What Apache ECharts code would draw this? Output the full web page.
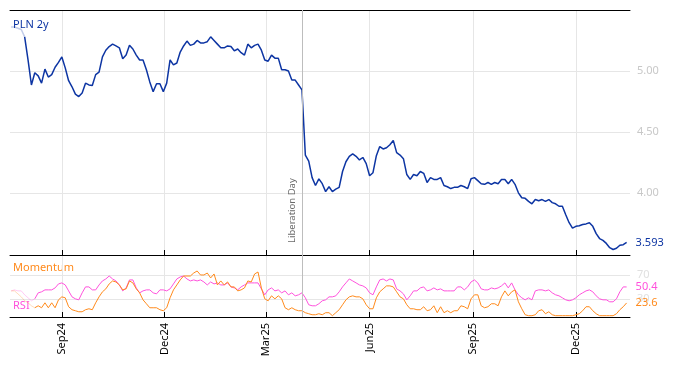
<!DOCTYPE html>
<html><head><meta charset="utf-8">
<script src="https://cdn.jsdelivr.net/npm/echarts@6/dist/echarts.min.js"></script>
<style>html,body{margin:0;padding:0;background:#fff}#c{width:674px;height:366px}</style>
</head><body><div id="c"></div>
<script>
// samples: one every 3 calendar days starting 2024-07-18
const sampleStart = '2024-07-18';
const sampleStepDays = 3;
const pln2y = [5.36,5.36,5.35,5.34,5.28,5.09,4.885,4.985,4.96,4.90,
5.015,4.95,4.97,5.03,5.07,5.115,5.025,4.92,4.87,4.81,
4.79,4.82,4.90,4.885,4.88,4.97,4.99,5.115,5.17,5.20,
5.22,5.205,5.19,5.10,5.13,5.21,5.18,5.13,5.09,5.09,
5.01,4.91,4.83,4.895,4.895,4.83,4.90,5.09,5.05,5.065,
5.155,5.205,5.245,5.21,5.22,5.25,5.23,5.23,5.24,5.28,
5.25,5.22,5.19,5.19,5.205,5.20,5.165,5.18,5.15,5.13,
5.22,5.19,5.21,5.22,5.17,5.09,5.08,5.13,5.105,5.105,
5.01,5.01,5.00,4.925,4.925,4.885,4.845,4.31,4.26,4.125,
4.06,4.115,4.075,4.01,4.05,4.01,4.03,4.045,4.175,4.255,
4.30,4.32,4.30,4.27,4.29,4.24,4.14,4.165,4.305,4.38,
4.36,4.37,4.395,4.43,4.33,4.31,4.28,4.15,4.11,4.15,
4.14,4.175,4.16,4.085,4.125,4.11,4.11,4.125,4.06,4.05,
4.035,4.045,4.045,4.06,4.05,4.035,4.115,4.125,4.10,4.075,
4.07,4.085,4.07,4.085,4.075,4.11,4.11,4.075,4.11,4.07,
4.00,3.96,3.955,3.93,3.91,3.945,3.935,3.945,3.93,3.945,
3.92,3.91,3.89,3.89,3.82,3.755,3.71,3.725,3.73,3.74,
3.745,3.755,3.725,3.665,3.625,3.61,3.585,3.55,3.535,3.545,
3.57,3.575,3.593];
const rsi = [43.8,45.5,43.8,43.8,37.2,32.2,27.2,30.5,40.5,42.2,
45.5,45.5,45.5,48.8,55.5,57.2,53.8,43.8,33.8,30.5,
28.8,40.5,50.5,50.5,45.5,45.5,53.8,60.5,63.8,68.8,
63.8,60.5,53.8,43.8,48.8,62.2,62.2,48.8,40.5,43.8,
45.5,45.5,40.5,38.8,45.5,45.5,43.8,47.2,55.5,63.8,
67.2,68.8,63.8,60.5,62.2,60.5,62.2,58.8,53.8,58.8,
55.5,57.2,53.8,53.8,57.2,50.5,48.8,45.5,50.5,53.8,
57.2,57.2,57.2,57.2,47.2,37.2,45.5,48.8,43.8,45.5,
40.5,43.8,37.2,40.5,35.5,37.2,40.5,32.2,20.5,18.8,
18.8,22.2,27.2,28.8,33.8,33.8,35.5,42.2,50.5,57.2,
63.8,60.5,57.2,53.8,52.2,48.8,40.5,37.2,50.5,62.2,
63.8,60.5,63.8,62.2,47.2,43.8,38.8,28.8,35.5,43.8,
43.8,48.8,50.5,43.8,45.5,48.8,45.5,47.2,43.8,43.8,
43.8,43.8,50.5,50.5,45.5,50.5,58.8,62.2,57.2,47.2,
45.5,45.5,48.8,47.2,48.8,52.2,57.2,48.8,57.2,45.5,
37.2,32.2,28.8,32.2,28.8,43.8,45.5,45.5,43.8,45.5,
40.5,37.2,35.5,32.2,28.8,27.2,28.8,32.2,37.2,40.5,
43.8,45.5,42.2,35.5,30.5,28.8,28.8,25.5,25.5,30.5,
42.2,50.5,50.4];
const momentum = [43.8,43.8,38.8,33.8,27.2,23.8,18.8,15.5,18.8,15.5,
23.8,15.5,23.8,15.5,28.8,33.8,32.2,17.2,12.2,10.5,
8.8,8.8,12.2,13.8,12.2,23.8,33.8,42.2,47.2,55.5,
60.5,58.8,53.8,45.5,47.2,60.5,57.2,47.2,40.5,28.8,
22.2,15.5,15.5,15.5,12.2,10.5,15.5,32.2,45.5,53.8,
62.2,68.8,68.8,68.8,73.8,77.2,70.5,70.5,73.8,65.5,
72.2,53.8,60.5,53.8,58.8,50.5,50.5,43.8,45.5,48.8,
60.5,58.8,72.2,75.5,48.8,30.5,27.2,35.5,30.5,35.5,
30.5,15.5,12.2,15.5,12.2,10.5,10.5,7.2,5.5,3.8,
3.8,5.5,3.8,7.2,7.2,2.2,7.2,12.2,20.5,28.8,
33.8,35.5,33.8,33.8,30.5,20.5,13.8,13.8,32.2,42.2,
47.2,52.2,52.2,50.5,42.2,33.8,30.5,20.5,13.8,13.8,
12.2,12.2,17.2,10.5,12.2,18.8,7.2,17.2,7.2,10.5,
7.2,10.5,10.5,18.8,17.2,13.8,30.5,37.2,37.2,18.8,
15.5,17.2,22.2,22.2,18.8,33.8,43.8,35.5,42.2,45.5,
25.5,13.8,3.8,2.2,2.2,3.8,10.5,12.2,5.5,8.8,
3.8,2.2,2.2,2.2,2.2,2.2,2.2,3.8,5.5,10.5,
17.2,17.2,10.5,5.5,2.2,2.2,2.2,2.2,2.2,5.5,
12.2,17.2,23.6];
const axisRange = ['2024-07-17', '2026-01-18'];
const quarterDates = ['2024-09-01','2024-12-01','2025-03-01','2025-06-01','2025-09-01','2025-12-01'];
const quarterLabels = ['Sep24','Dec24','Mar25','Jun25','Sep25','Dec25'];
const priceTicks = [4.0, 4.5, 5.0];
const oscTicks = [30, 70];
const eventDate = '2025-04-02';
const eventName = 'Liberation Day';
const seriesNames = ['PLN 2y', 'RSI', 'Momentum'];

function ts(s){ const p = s.split('-').map(Number); return new Date(p[0], p[1]-1, p[2]).getTime(); }
const s0 = sampleStart.split('-').map(Number);
const dates = pln2y.map((_, i) => new Date(s0[0], s0[1]-1, s0[2] + i*sampleStepDays).getTime());
const qTs = quarterDates.map(ts);
function pairs(arr, from, to){ return arr.map((v,i)=> (i>=from && i<=to) ? [dates[i], v] : null).filter(Boolean); }
const N = pln2y.length - 1;
const BLUE = '#0d35a3', PINK = '#ff52dc', ORANGE = '#ff8a1c';
const FONT = 'Noto Sans';
function qLabel(v){ let best=0; for(let k=1;k<qTs.length;k++){ if(Math.abs(qTs[k]-v)<Math.abs(qTs[best]-v)) best=k; } return quarterLabels[best]; }

const chart = echarts.init(document.getElementById('c'), null, {renderer:'canvas'});
const xBase = (gi) => ({type:'value', gridIndex:gi, min:ts(axisRange[0]), max:ts(axisRange[1]), scale:true});
chart.setOption({
  animation:false,
  textStyle:{fontFamily:FONT},
  grid:[{left:10,right:44,top:10,height:245},{left:10,right:44,top:255,height:62}],
  xAxis:[
    Object.assign(xBase(0),{position:'bottom',
      axisLine:{onZero:false,lineStyle:{color:'#000',width:1}},
      axisTick:{show:true,inside:true,length:5,lineStyle:{color:'#000'},customValues:qTs},
      axisLabel:{show:false,customValues:qTs},
      splitLine:{show:true,lineStyle:{color:'#e6e6e6',width:1}}}),
    Object.assign(xBase(0),{position:'top',
      axisLine:{onZero:false,lineStyle:{color:'#000',width:1}},axisTick:{show:false},axisLabel:{show:false},splitLine:{show:false}}),
    Object.assign(xBase(1),{position:'bottom',
      axisLine:{onZero:false,lineStyle:{color:'#000',width:1}},
      axisTick:{show:true,inside:true,length:5,lineStyle:{color:'#000'},customValues:qTs},
      axisLabel:{show:true,customValues:qTs,rotate:90,margin:6,color:'#000',fontSize:11,fontFamily:FONT,
        formatter:qLabel},
      splitLine:{show:true,lineStyle:{color:'#e6e6e6',width:1}}})
  ],
  yAxis:[
    {type:'value',gridIndex:0,position:'right',min:3.49,max:5.5,
      axisLine:{show:false},axisTick:{show:false,customValues:priceTicks},
      axisLabel:{customValues:priceTicks,formatter:(v)=>v.toFixed(2),color:'#c8c8c8',fontSize:11,margin:7,fontFamily:FONT},
      splitLine:{show:true,lineStyle:{color:'#e6e6e6'}}},
    {type:'value',gridIndex:1,position:'right',min:0,max:104,
      axisLine:{show:false},axisTick:{show:false,customValues:oscTicks},
      axisLabel:{customValues:oscTicks,color:'#e0e0e0',fontSize:11,margin:7,fontFamily:FONT},
      splitLine:{show:true,lineStyle:{color:'#e6e6e6'}}}
  ],
  graphic:[
    {type:'text',left:13,top:19,style:{text:seriesNames[0],fill:BLUE,font:'11px "Noto Sans"'}},
    {type:'text',left:13,top:262,style:{text:seriesNames[2],fill:ORANGE,font:'11px "Noto Sans"'}},
    {type:'text',left:13,top:300,style:{text:seriesNames[1],fill:PINK,font:'11px "Noto Sans"'}}
  ],
  series:[
    {type:'line',xAxisIndex:0,yAxisIndex:0,data:pairs(pln2y,0,4),symbol:'none',silent:true,
      lineStyle:{color:BLUE,width:1.5,opacity:0.25}},
    {type:'line',name:seriesNames[0],xAxisIndex:0,yAxisIndex:0,data:pairs(pln2y,4,N),symbol:'none',
      lineStyle:{color:BLUE,width:1.5},
      endLabel:{show:true,formatter:(p)=>p.value[1].toFixed(3),color:BLUE,fontSize:11,distance:9,fontFamily:FONT},
      markLine:{silent:true,symbol:['none','none'],
        lineStyle:{color:'#bdbdbd',width:1,type:'solid'},
        label:{show:true,formatter:eventName,position:'insideStartTop',color:'#6a6a6a',fontSize:9.5,fontFamily:FONT,distance:[12,5]},
        data:[{xAxis:ts(eventDate)}]}},
    {type:'line',xAxisIndex:2,yAxisIndex:1,data:pairs(rsi,0,7),symbol:'none',silent:true,
      lineStyle:{color:PINK,width:1,opacity:0.3}},
    {type:'line',name:seriesNames[1],xAxisIndex:2,yAxisIndex:1,data:pairs(rsi,7,N),symbol:'none',
      lineStyle:{color:PINK,width:1},
      endLabel:{show:true,formatter:(p)=>p.value[1].toFixed(1),color:PINK,fontSize:11,distance:9,fontFamily:FONT},
      markLine:{silent:true,symbol:['none','none'],lineStyle:{color:'#bdbdbd',width:1,type:'solid'},
        label:{show:false},data:[{xAxis:ts(eventDate)}]}},
    {type:'line',xAxisIndex:2,yAxisIndex:1,data:pairs(momentum,0,7),symbol:'none',silent:true,
      lineStyle:{color:ORANGE,width:1,opacity:0.3}},
    {type:'line',name:seriesNames[2],xAxisIndex:2,yAxisIndex:1,data:pairs(momentum,7,N),symbol:'none',
      lineStyle:{color:ORANGE,width:1},
      endLabel:{show:true,formatter:(p)=>p.value[1].toFixed(1),color:ORANGE,fontSize:11,distance:9,fontFamily:FONT}}
  ]
});
</script></body></html>
